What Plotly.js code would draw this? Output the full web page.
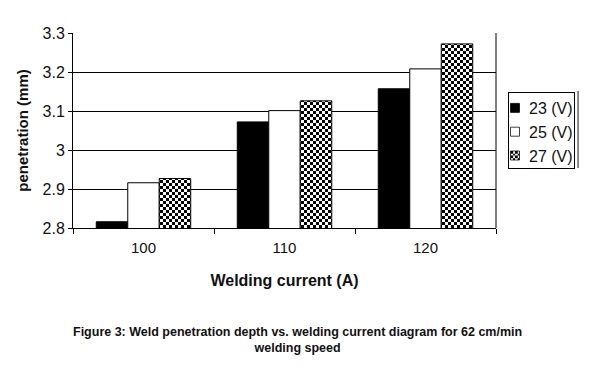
<!DOCTYPE html>
<html><head><meta charset="utf-8">
<script src="https://cdn.plot.ly/plotly-3.0.1.min.js"></script>
<style>html,body{margin:0;padding:0;background:#fff}#c{width:595px;height:371px}</style>
</head><body><div id="c"></div>
<script>
const categories = ['100', '110', '120'];
const v23 = [2.816, 3.072, 3.157];
const v25 = [2.916, 3.101, 3.208];
const v27 = [2.927, 3.126, 3.272];
const seriesNames = ['23 (V)', '25 (V)', '27 (V)'];
const yTicks = [2.8, 2.9, 3.0, 3.1, 3.2, 3.3];
const yTickText = ['2.8', '2.9', '3', '3.1', '3.2', '3.3'];

const line = {color: '#000', width: 1};
const traces = [
  {type: 'bar', x: categories, y: v23, name: seriesNames[0], marker: {color: '#000', line: line}},
  {type: 'bar', x: categories, y: v25, name: seriesNames[1], marker: {color: '#fff', line: line}},
  {type: 'bar', x: categories, y: v27, name: seriesNames[2],
   marker: {color: '#fff', line: line, pattern: {shape: '.', fgcolor: '#000', bgcolor: '#fff', size: 6, solidity: 0.5, fillmode: 'overlay'}}}
];
const font = {family: 'Arial, Liberation Sans, sans-serif', color: '#111'};
const layout = {
  width: 595, height: 371,
  margin: {l: 73, r: 99, t: 33, b: 143, autoexpand: false},
  paper_bgcolor: '#fff', plot_bgcolor: '#fff',
  barmode: 'group', bargap: 0.33, bargroupgap: 0,
  showlegend: true,
  legend: {x: 0.5, y: 0.7, xanchor: 'left', yanchor: 'top', bordercolor: '#000', borderwidth: 1,
           font: Object.assign({size: 16}, font), itemwidth: 30, tracegroupgap: 0, traceorder: 'normal'},
  font: font,
  xaxis: {type: 'category', showline: true, linecolor: '#000', linewidth: 1, mirror: false,
          ticks: 'outside', tickson: 'boundaries', ticklen: 5, tickcolor: '#000', ticklabelstandoff: 6,
          tickfont: Object.assign({size: 15}, font), showgrid: false,
          title: {text: '<b>Welding current (A)</b>', font: Object.assign({size: 16}, font), standoff: 19}},
  yaxis: {range: [2.8, 3.3], tickvals: yTicks, ticktext: yTickText, showline: true, linecolor: '#000',
          ticks: 'outside', ticklen: 4, tickcolor: '#000', showgrid: true, gridcolor: '#000', gridwidth: 1,
          zeroline: false, tickfont: Object.assign({size: 16}, font),
          title: {text: '<b>penetration (mm)</b>', font: Object.assign({size: 15}, font), standoff: 10}},
  shapes: [
    {type: 'line', xref: 'paper', yref: 'paper', x0: 1, x1: 1, y0: 0, y1: 1, line: {color: '#000', width: 1}},
    {type: 'line', xref: 'paper', yref: 'paper', x0: 1.194, x1: 1.194, y0: 0.308, y1: 0.703, line: {color: '#666', width: 1.5}}
  ],
  annotations: [{xref: 'paper', yref: 'paper', x: 0.53, y: -0.485, xanchor: 'center', yanchor: 'top', showarrow: false,
    align: 'center', text: '<b>Figure 3: Weld penetration depth vs. welding current diagram for 62 cm/min<br>welding speed</b>',
    font: Object.assign({size: 12.5}, font)}]
};
const gd = document.getElementById('c');
Plotly.newPlot(gd, traces, layout, {displayModeBar: false, staticPlot: true}).then(function () {
  // checkerboard fill for the patterned series
  gd.querySelectorAll('pattern').forEach(function (p) {
    p.setAttribute('width', 6); p.setAttribute('height', 6);
    p.removeAttribute('patternTransform');
    while (p.firstChild) p.removeChild(p.firstChild);
    const ns = 'http://www.w3.org/2000/svg';
    [[0, 0, 6, 6, '#fff'], [0, 0, 3, 3, '#000'], [3, 3, 3, 3, '#000']].forEach(function (r) {
      const e = document.createElementNS(ns, 'rect');
      e.setAttribute('x', r[0]); e.setAttribute('y', r[1]);
      e.setAttribute('width', r[2]); e.setAttribute('height', r[3]);
      e.setAttribute('fill', r[4]); e.setAttribute('shape-rendering', 'crispEdges');
      p.appendChild(e);
    });
  });
  // compact legend box placed to the right of the plot
  const leg = gd.querySelector('g.legend');
  if (leg) {
    leg.querySelectorAll('g.traces').forEach(function (t) {
      const lp = t.querySelector('g.legendpoints');
      if (lp) lp.setAttribute('transform', 'translate(-9,0) scale(0.75)');
      const tx = t.querySelector('text.legendtext');
      if (tx) tx.setAttribute('x', (+tx.getAttribute('x')) - 20);
    });
    const bg = leg.querySelector('rect.bg');
    if (bg) { bg.setAttribute('y', 2.5); bg.setAttribute('width', 66); bg.setAttribute('height', 76); }
    leg.setAttribute('transform', 'translate(508,90)');
  }
});
</script></body></html>
